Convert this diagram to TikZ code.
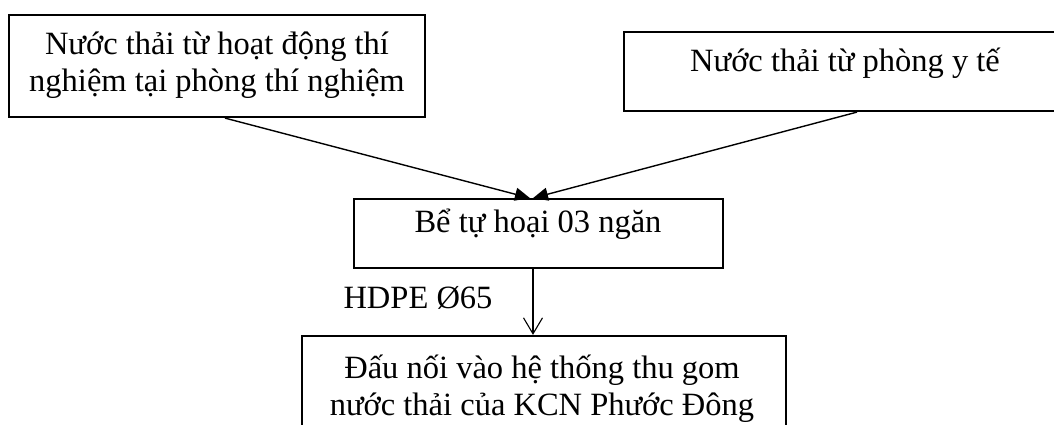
\documentclass[tikz,border=0pt]{standalone}
\usepackage{fontspec}
\setmainfont{Liberation Serif}
\usetikzlibrary{arrows.meta,calc}
\begin{document}
\begin{tikzpicture}[x=1pt,y=-1pt,
  box/.style={draw, line width=2.2pt, inner sep=0pt},
  txt/.style={font=\fontsize{32.5}{37}\selectfont, align=center, inner sep=0pt, anchor=base},
  conn/.style={line width=1.4pt}]
\useasboundingbox (0,0) rectangle (1054,425);
\clip (0,0) rectangle (1054,425);
% boxes
\node[box, minimum width=416pt, minimum height=102pt] (a) at (217,66) {};
\node[box, minimum width=442pt, minimum height=79pt] (r) at (845,71.5) {};
\node[box, minimum width=369pt, minimum height=69pt, line width=1.8pt] (b) at (538.5,233.5) {};
\node[box, minimum width=484pt, minimum height=110pt] (c) at (544,391) {};
% texts
\node[txt] (at) at (217,92) {Nước thải từ hoạt động thí\\nghiệm tại phòng thí nghiệm};
\node[txt] (rt) at (845,72) {Nước thải từ phòng y tế};
\node[txt] (bt) at (538,232) {Bể tự hoại 03 ngăn};
\node[txt] (ct) at (542,415) {Đấu nối vào hệ thống thu gom\\nước thải của KCN Phước Đông};
\node[txt] (lbl) at (418,308) {HDPE Ø65};
% connectors
\draw[conn,-{Triangle[length=15pt,width=13pt]}] ($(a.south)+(8,0)$) -- ($(b.north)+(-8.5,0)$);
\draw[conn,-{Triangle[length=15pt,width=13pt]}] ($(r.south)+(12,0)$) -- ($(b.north)+(-5.5,0)$);
\draw[conn,line width=1.1pt,-{Straight Barb[length=16pt,width=19pt,line width=1.1pt]}] ($(b.south)+(-5.5,0)$) -- ($(c.north)+(-11,0)$);
\end{tikzpicture}
\end{document}
